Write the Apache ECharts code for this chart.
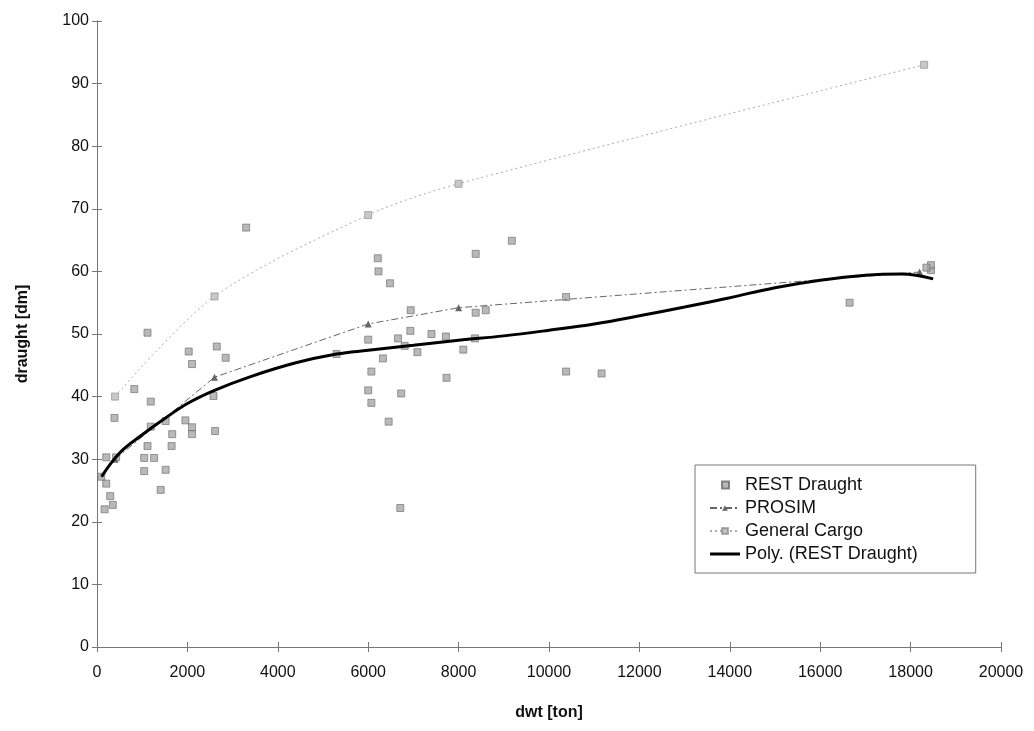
<!DOCTYPE html>
<html>
<head>
<meta charset="utf-8">
<script src="https://cdn.jsdelivr.net/npm/echarts@6/dist/echarts.min.js"></script>
<style>html,body{margin:0;padding:0;background:#fff}#c{width:1034px;height:731px}</style>
</head>
<body>
<div id="c"></div>
<script>
// REST Draught observations [dwt, draught]
const restDwt = [95,168,204,204,292,350,423,387,825,1117,1190,1190,1117,1044,1263,1044,1409,1518,1518,1664,1650,1956,2029,2102,2102,2102,2577,2613,2650,2847,3300,
  5300,6000,6000,6070,6070,6213,6228,6483,6326,6452,6660,6730,6710,6807,6933,6940,7089,7400,7719,7733,8104,8363,8378,8378,8600,9178,10378,10378,11163,16650,18450,18450,18350];
const restDraught = [27.2,22.0,26.1,30.3,24.1,22.7,30.3,36.6,41.2,50.2,39.2,35.2,32.1,30.2,30.2,28.1,25.1,28.3,36.1,34.0,32.1,36.2,47.2,45.2,35.1,34.0,40.1,34.5,48.0,46.2,67.0,
  46.8,49.1,41.0,44.0,39.0,62.1,60.0,58.1,46.1,36.0,49.3,40.5,22.2,48.1,50.5,53.8,47.1,50.0,49.6,43.0,47.5,49.3,53.4,62.8,53.8,64.9,55.9,44.0,43.7,55.0,60.2,61.0,60.6];
// PROSIM
const prosimDwt = [400,2600,6000,8000,18200];
const prosimDraught = [30,43.1,51.6,54.2,59.9];
// General Cargo
const cargoDwt = [400,2600,6000,8000,18300];
const cargoDraught = [40,56,69,74,93];
// Poly. (REST Draught) trend
const polyDwt = [100,500,1000,1500,2000,2600,3400,4400,5300,6000,7000,8000,9000,10000,11000,12000,13000,14000,15000,16000,17000,17800,18500];
const polyDraught = [27.2,31,33.9,36.5,38.9,41,43.2,45.4,46.8,47.4,48.2,49,49.7,50.6,51.6,52.9,54.3,55.8,57.4,58.6,59.4,59.6,58.8];
// Axis ticks
const xTicks = {min:0, max:20000, interval:2000};
const yTicks = {min:0, max:100, interval:10};

const zip = (a,b) => a.map((v,i)=>[v,b[i]]);
const font = 'Liberation Sans, Arial, sans-serif';
const chart = echarts.init(document.getElementById('c'));
const axisCommon = {
  axisLine:{show:true, lineStyle:{color:'#777', width:1}},
  splitLine:{show:false},
};
const fmt = v => String(v);
chart.setOption({
  animation:false,
  backgroundColor:'#fff',
  grid:{left:97, right:33, top:21, bottom:84},
  legend:{
    orient:'vertical', left:695, top:465,
    padding:[11,58,10,14], itemGap:5, itemWidth:30, itemHeight:7,
    borderColor:'#777', borderWidth:1, backgroundColor:'#fff',
    textStyle:{fontFamily:font, fontSize:18, color:'#111'},
    data:[
      {name:'REST Draught', icon:'path://M0,-3L0.01,-3M12,-3h7v7h-7zM30,4L30.01,4'},
      {name:'PROSIM'},
      {name:'General Cargo'},
      {name:'Poly. (REST Draught)', icon:'path://M0,-3L0.01,-3M0,-1h30v3h-30zM30,4L30.01,4'}
    ]
  },
  xAxis:[
    Object.assign({type:'value', min:xTicks.min, max:xTicks.max, interval:xTicks.interval, position:'bottom',
      name:'dwt [ton]', nameLocation:'middle', nameGap:58,
      nameTextStyle:{fontFamily:font, fontSize:16, fontWeight:'bold', color:'#111'},
      axisTick:{show:true, length:5, lineStyle:{color:'#777'}},
      axisLabel:{fontFamily:font, fontSize:16, color:'#111', margin:18, formatter:fmt}}, axisCommon),
    Object.assign({type:'value', min:xTicks.min, max:xTicks.max, interval:xTicks.interval, position:'bottom',
      axisTick:{show:true, inside:true, length:5, lineStyle:{color:'#777'}},
      axisLabel:{show:false}}, axisCommon)
  ],
  yAxis:[
    Object.assign({type:'value', min:yTicks.min, max:yTicks.max, interval:yTicks.interval, position:'left',
      name:'draught [dm]', nameLocation:'middle', nameGap:66, nameRotate:90,
      nameTextStyle:{fontFamily:font, fontSize:16, fontWeight:'bold', color:'#111'},
      axisTick:{show:true, length:5, lineStyle:{color:'#777'}},
      axisLabel:{fontFamily:font, fontSize:16, color:'#111', margin:8, formatter:fmt}}, axisCommon),
    Object.assign({type:'value', min:yTicks.min, max:yTicks.max, interval:yTicks.interval, position:'left',
      axisTick:{show:true, inside:true, length:5, lineStyle:{color:'#777'}},
      axisLabel:{show:false}}, axisCommon)
  ],
  series:[
    {name:'REST Draught', type:'scatter', data:zip(restDwt,restDraught), symbol:'rect', symbolSize:7,
      itemStyle:{color:'#a8a8a8', borderColor:'#6a6a6a', borderWidth:0.8}, z:2},
    {name:'PROSIM', type:'line', data:zip(prosimDwt,prosimDraught), symbol:'triangle', symbolSize:7, showAllSymbol:true,
      lineStyle:{color:'#666', width:1, type:[7,3,2,3]}, itemStyle:{color:'#666'}, z:3},
    {name:'General Cargo', type:'line', data:zip(cargoDwt,cargoDraught), symbol:'rect', symbolSize:7, smooth:0.3,
      lineStyle:{color:'#aaa', width:1, type:[2,3]}, itemStyle:{color:'#c8c8c8', borderColor:'#999', borderWidth:0.8}, z:3},
    {name:'Poly. (REST Draught)', type:'line', data:zip(polyDwt,polyDraught), symbol:'none', smooth:0.4,
      lineStyle:{color:'#000', width:3}, itemStyle:{color:'#000'}, z:4}
  ]
});
</script>
</body>
</html>
